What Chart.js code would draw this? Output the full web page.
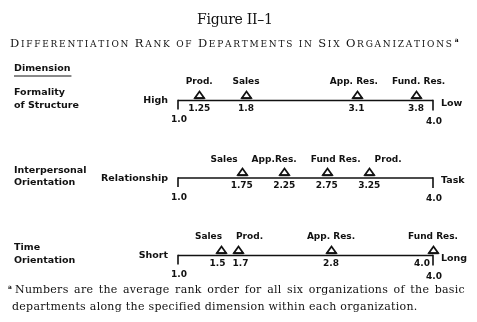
<!DOCTYPE html>
<html>
<head>
<meta charset="utf-8">
<script src="https://cdn.jsdelivr.net/npm/chart.js@4"></script>
<style>
  html, body { margin: 0; background: #fff; }
  canvas { display: block; }
</style>
</head>
<body>
<canvas id="chart" width="477" height="322"></canvas>
<script>
// rank scale and the three dimensions
const scaleRange = [1.0, 4.0];
const dimensionNames = [['Formality', 'of Structure'], ['Interpersonal', 'Orientation'], ['Time', 'Orientation']];
const lowEndLabels = ['High', 'Relationship', 'Short'];
const highEndLabels = ['Low', 'Task', 'Long'];

const structureDepts = ['Prod.', 'Sales', 'App. Res.', 'Fund. Res.'];
const structureRanks = [1.25, 1.8, 3.1, 3.8];
const interpersonalDepts = ['Sales', 'App.Res.', 'Fund Res.', 'Prod.'];
const interpersonalRanks = [1.75, 2.25, 2.75, 3.25];
const timeDepts = ['Sales', 'Prod.', 'App. Res.', 'Fund Res.'];
const timeRanks = [1.5, 1.7, 2.8, 4.0];

const figureTitle = 'Figure II\u20131';
const figureSubtitle = 'Differentiation Rank of Departments in Six Organizations';
const footnoteLines = [
    'Numbers are the average rank order for all six organizations of the basic',
    'departments along the specified dimension within each organization.'
];

const rows = [
    { depts: structureDepts, ranks: structureRanks },
    { depts: interpersonalDepts, ranks: interpersonalRanks },
    { depts: timeDepts, ranks: timeRanks }
];

const INK = '#111';
const SANS = '"DejaVu Sans", sans-serif';
const SERIF = '"DejaVu Serif", serif';

function fmtRank(v) {
    return Number.isInteger(v) ? v.toFixed(1) : String(v);
}

// push crowded labels apart so they keep a gap between them
function spreadLabels(ctx, names, xs, gap) {
    const items = names.map((n, i) => ({ w: ctx.measureText(n).width, c: xs[i] }));
    for (let k = 0; k < 200; k++) {
        for (let i = 0; i < items.length - 1; i++) {
            const a = items[i], b = items[i + 1];
            const need = a.w / 2 + b.w / 2 + gap - (b.c - a.c);
            if (need > 0) { a.c -= need / 2; b.c += need / 2; }
        }
    }
    return items.map(it => it.c);
}

// text stretched to a given width with letter spacing
function fitText(ctx, text, x, y, width) {
    ctx.letterSpacing = '0px';
    const natural = ctx.measureText(text).width;
    const sp = (width - natural) / Math.max(1, text.length - 1);
    ctx.letterSpacing = sp + 'px';
    ctx.fillText(text, x, y);
    ctx.letterSpacing = '0px';
}

function drawSmallCaps(ctx, text, x, y, big, small, width) {
    const parts = [];
    for (const ch of text) {
        const isCap = ch !== ' ' && ch === ch.toUpperCase();
        parts.push({ ch: ch.toUpperCase(), size: isCap ? big : small });
    }
    let natural = 0;
    parts.forEach(p => { ctx.font = p.size + 'px ' + SERIF; p.w = ctx.measureText(p.ch).width; natural += p.w; });
    const sp = (width - natural) / (parts.length - 1);
    let cx = x;
    parts.forEach(p => {
        ctx.font = p.size + 'px ' + SERIF;
        ctx.fillText(p.ch, cx, y);
        cx += p.w + sp;
    });
    return cx;
}

function justifyLine(ctx, text, x, y, width) {
    const words = text.split(' ');
    const ws = words.map(w => ctx.measureText(w).width);
    const total = ws.reduce((a, b) => a + b, 0);
    const gap = (width - total) / (words.length - 1);
    let cx = x;
    words.forEach((w, i) => { ctx.fillText(w, cx, y); cx += ws[i] + gap; });
}

// hollow deltas drawn just above each rank point
const deltaPlugin = {
    id: 'deltas',
    afterDatasetsDraw(chart) {
        const ctx = chart.ctx;
        ctx.save();
        ctx.strokeStyle = INK;
        ctx.fillStyle = INK;
        ctx.lineWidth = 1.7;
        ctx.lineJoin = 'miter';
        chart.data.datasets.forEach((ds, i) => {
            if (!ds.isRank) return;
            chart.getDatasetMeta(i).data.forEach(pt => {
                const px = Math.round(pt.x) + 0.5;
                const py = Math.round(pt.y);
                ctx.beginPath();
                ctx.moveTo(px, py - 9.5);
                ctx.lineTo(px + 4.6, py - 3);
                ctx.lineTo(px - 4.6, py - 3);
                ctx.closePath();
                ctx.stroke();
                ctx.fillRect(px - 5.2, py - 3.6, 10.4, 1.8);
            });
        });
        ctx.restore();
    }
};

const labelPlugin = {
    id: 'labels',
    afterDatasetsDraw(chart) {
        const { ctx, scales: { x, y } } = chart;
        ctx.save();
        ctx.fillStyle = INK;
        ctx.strokeStyle = INK;

        // heading
        ctx.textAlign = 'left';
        ctx.textBaseline = 'alphabetic';
        ctx.font = '14px ' + SERIF;
        fitText(ctx, figureTitle, 197, 24, 76);
        const end = drawSmallCaps(ctx, figureSubtitle, 10, 46.5, 11.5, 9, 442);
        ctx.font = 'bold 6px ' + SERIF;
        ctx.fillText('a', end + 1, 42);

        const x0 = x.getPixelForValue(scaleRange[0]);
        const x1 = x.getPixelForValue(scaleRange[1]);

        // column header
        const firstY = y.getPixelForValue(0);
        ctx.font = 'bold 9.5px ' + SANS;
        ctx.textBaseline = 'middle';
        ctx.fillText('Dimension', 14, firstY - 32);
        const hw = ctx.measureText('Dimension').width;
        ctx.lineWidth = 1;
        ctx.beginPath();
        ctx.moveTo(14, firstY - 24.5);
        ctx.lineTo(14 + hw + 1, firstY - 24.5);
        ctx.stroke();

        rows.forEach((row, i) => {
            const ly = y.getPixelForValue(i);

            // end ticks of the rank scale
            ctx.lineWidth = 1.6;
            ctx.beginPath();
            ctx.moveTo(x0, ly - 0.8); ctx.lineTo(x0, ly + 9);
            ctx.moveTo(x1, ly - 0.8); ctx.lineTo(x1, ly + 10);
            ctx.stroke();

            ctx.font = 'bold 9.5px ' + SANS;
            ctx.textBaseline = 'middle';
            ctx.textAlign = 'left';
            ctx.fillText(dimensionNames[i][0], 14, ly - 7.5);
            ctx.fillText(dimensionNames[i][1], 14, ly + 5);

            ctx.textAlign = 'right';
            ctx.fillText(lowEndLabels[i], x0 - 10, ly + 0.5);
            ctx.textAlign = 'left';
            ctx.fillText(highEndLabels[i], x1 + 8, ly + 3);

            ctx.font = 'bold 9px ' + SANS;
            ctx.textAlign = 'center';
            ctx.fillText(fmtRank(scaleRange[0]), x0 + 1, ly + 19.5);
            ctx.fillText(fmtRank(scaleRange[1]), x1 + 1, ly + 21);

            // department names above, ranks below
            const px = row.ranks.map(v => x.getPixelForValue(v));
            const cx = spreadLabels(ctx, row.depts, px, 14);
            row.depts.forEach((d, k) => ctx.fillText(d, cx[k], ly - 18.5));
            const vals = row.ranks.map(fmtRank);
            const vx = spreadLabels(ctx, vals, px, 7);
            row.ranks.forEach((v, k) => {
                if (v >= scaleRange[1]) {
                    ctx.textAlign = 'right';
                    ctx.fillText(vals[k], px[k] - 3, ly + 8);
                    ctx.textAlign = 'center';
                } else {
                    ctx.fillText(vals[k], vx[k], ly + 8);
                }
            });
        });

        // footnote
        ctx.textAlign = 'left';
        ctx.textBaseline = 'alphabetic';
        ctx.font = 'bold 6px ' + SERIF;
        ctx.fillText('a', 8, 289);
        ctx.font = '11px ' + SERIF;
        ctx.letterSpacing = '0px';
        const natural = ctx.measureText(footnoteLines[1]).width;
        const sp = (405 - natural) / (footnoteLines[1].length - 1);
        ctx.letterSpacing = sp + 'px';
        justifyLine(ctx, footnoteLines[0], 15, 293, 450);
        ctx.fillText(footnoteLines[1], 12, 310);
        ctx.letterSpacing = '0px';

        ctx.restore();
    }
};

const datasets = [];
rows.forEach((row, i) => {
    datasets.push({
        data: scaleRange.map(v => ({ x: v, y: i })),
        showLine: true,
        borderColor: INK,
        borderWidth: 1.6,
        pointRadius: 0
    });
    datasets.push({
        data: row.ranks.map(v => ({ x: v, y: i })),
        isRank: true,
        showLine: false,
        pointRadius: 0
    });
});

new Chart(document.getElementById('chart'), {
    type: 'scatter',
    data: { datasets },
    options: {
        responsive: false,
        animation: false,
        events: [],
        layout: { padding: { left: 178, right: 44, top: 23, bottom: 4.5 } },
        scales: {
            x: { type: 'linear', min: scaleRange[0], max: scaleRange[1], display: false },
            y: { type: 'linear', min: -1, max: 2.8, reverse: true, display: false }
        },
        plugins: { legend: { display: false }, tooltip: { enabled: false } }
    },
    plugins: [deltaPlugin, labelPlugin]
});
</script>
</body>
</html>
